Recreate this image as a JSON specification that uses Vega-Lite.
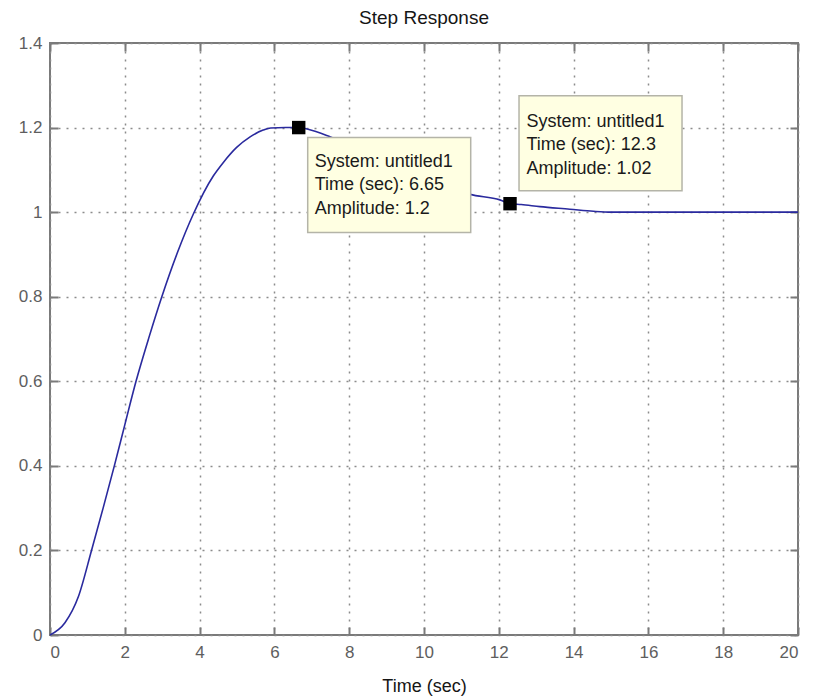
{
  "$schema": "https://vega.github.io/schema/vega-lite/v6.json",
  "width": 748,
  "height": 592,
  "autosize": {"type": "none"},
  "padding": {"left": 50, "top": 43, "right": 16, "bottom": 61},
  "background": "white",
  "title": {
    "text": "Step Response",
    "font": "Liberation Sans",
    "fontSize": 19,
    "fontWeight": "normal",
    "color": "#151515",
    "anchor": "middle",
    "offset": 6
  },
  "config": {
    "view": {"stroke": "#7a7a7a", "strokeWidth": 2},
    "axis": {
      "labelFont": "Liberation Sans",
      "labelFontSize": 17,
      "labelColor": "#5e5e5e",
      "titleFont": "Liberation Sans",
      "titleFontSize": 18,
      "titleFontWeight": "normal",
      "titleColor": "#151515",
      "domain": false,
      "tickColor": "#7a7a7a",
      "tickWidth": 2,
      "tickSize": -8,
      "labelPadding": 16,
      "gridColor": "#8c8c8c",
      "gridWidth": 1.5,
      "gridDash": [2, 6]
    }
  },
  "datasets": {
    "response": [
      {"t": 0, "amplitude": 0},
      {"t": 0.4, "amplitude": 0.029},
      {"t": 0.76, "amplitude": 0.091},
      {"t": 1.11, "amplitude": 0.2},
      {"t": 1.42, "amplitude": 0.3},
      {"t": 1.72, "amplitude": 0.4},
      {"t": 2.0, "amplitude": 0.497},
      {"t": 2.3, "amplitude": 0.6},
      {"t": 2.65, "amplitude": 0.705},
      {"t": 2.99, "amplitude": 0.8},
      {"t": 3.41, "amplitude": 0.905},
      {"t": 3.83, "amplitude": 0.995},
      {"t": 4.37, "amplitude": 1.086},
      {"t": 4.63, "amplitude": 1.117},
      {"t": 4.99, "amplitude": 1.153},
      {"t": 5.35, "amplitude": 1.178},
      {"t": 5.7, "amplitude": 1.194},
      {"t": 5.9, "amplitude": 1.199},
      {"t": 6.3, "amplitude": 1.2},
      {"t": 6.65, "amplitude": 1.2},
      {"t": 6.9, "amplitude": 1.196},
      {"t": 7.5, "amplitude": 1.178},
      {"t": 8.0, "amplitude": 1.16},
      {"t": 8.5, "amplitude": 1.14},
      {"t": 9.0, "amplitude": 1.12},
      {"t": 9.5, "amplitude": 1.1},
      {"t": 10.0, "amplitude": 1.081},
      {"t": 10.5, "amplitude": 1.064},
      {"t": 11.23, "amplitude": 1.042},
      {"t": 12.03, "amplitude": 1.029},
      {"t": 12.3, "amplitude": 1.02},
      {"t": 12.6, "amplitude": 1.018},
      {"t": 13.1, "amplitude": 1.013},
      {"t": 13.9, "amplitude": 1.007},
      {"t": 14.53, "amplitude": 1.002},
      {"t": 15.0, "amplitude": 1.0},
      {"t": 20.0, "amplitude": 1.0}
    ],
    "datatips": [
      {"system": "untitled1", "t": 6.65, "amplitude": 1.2},
      {"system": "untitled1", "t": 12.3, "amplitude": 1.02}
    ]
  },
  "layer": [
    {
      "data": {"name": "response"},
      "mark": {"type": "line", "color": "#2a2a9e", "strokeWidth": 1.6, "interpolate": "monotone"},
      "encoding": {
        "x": {
          "field": "t", "type": "quantitative",
          "scale": {"domain": [0, 20], "nice": false},
          "axis": {
            "orient": "bottom", "title": "Time (sec)",
            "values": [0, 2, 4, 6, 8, 10, 12, 14, 16, 18, 20],
            "grid": true, "labelPadding": 17, "titlePadding": 17
          }
        },
        "y": {
          "field": "amplitude", "type": "quantitative",
          "scale": {"domain": [0, 1.4], "nice": false},
          "axis": {
            "orient": "left", "title": null,
            "values": [0, 0.2, 0.4, 0.6, 0.8, 1, 1.2, 1.4],
            "format": ".1~f", "grid": true
          }
        }
      }
    },
    {
      "data": {"name": "response"},
      "mark": {"type": "line", "opacity": 0},
      "encoding": {
        "x": {
          "field": "t", "type": "quantitative",
          "axis": {
            "orient": "top", "title": null, "labels": false, "grid": false,
            "values": [0, 2, 4, 6, 8, 10, 12, 14, 16, 18, 20]
          }
        },
        "y": {
          "field": "amplitude", "type": "quantitative",
          "axis": {
            "orient": "right", "title": null, "labels": false, "grid": false,
            "values": [0, 0.2, 0.4, 0.6, 0.8, 1, 1.2, 1.4]
          }
        }
      }
    },
    {
      "data": {"name": "datatips"},
      "transform": [{"filter": "datum.t == 6.65"}],
      "mark": {
        "type": "rect", "fill": "#ffffe2", "stroke": "#b4b4a8", "strokeWidth": 1.5,
        "xOffset": 9, "x2Offset": 172, "yOffset": 10, "y2Offset": 105
      },
      "encoding": {
        "x": {"field": "t", "type": "quantitative", "axis": null},
        "x2": {"field": "t"},
        "y": {"field": "amplitude", "type": "quantitative", "axis": null},
        "y2": {"field": "amplitude"}
      }
    },
    {
      "data": {"name": "datatips"},
      "transform": [{"filter": "datum.t == 12.3"}],
      "mark": {
        "type": "rect", "fill": "#ffffe2", "stroke": "#b4b4a8", "strokeWidth": 1.5,
        "xOffset": 9, "x2Offset": 172, "yOffset": -108, "y2Offset": -13
      },
      "encoding": {
        "x": {"field": "t", "type": "quantitative", "axis": null},
        "x2": {"field": "t"},
        "y": {"field": "amplitude", "type": "quantitative", "axis": null},
        "y2": {"field": "amplitude"}
      }
    },
    {
      "data": {"name": "datatips"},
      "transform": [
        {"filter": "datum.t == 6.65"},
        {"calculate": "'System: ' + datum.system + '\\n' + 'Time (sec): ' + datum.t + '\\n' + 'Amplitude: ' + datum.amplitude", "as": "label"}
      ],
      "mark": {
        "type": "text", "align": "left", "baseline": "middle",
        "dx": 16, "dy": 34, "lineBreak": "\n", "lineHeight": 23.5,
        "font": "Liberation Sans", "fontSize": 18, "color": "#1a1a1a"
      },
      "encoding": {
        "x": {"field": "t", "type": "quantitative", "axis": null},
        "y": {"field": "amplitude", "type": "quantitative", "axis": null},
        "text": {"field": "label"}
      }
    },
    {
      "data": {"name": "datatips"},
      "transform": [
        {"filter": "datum.t == 12.3"},
        {"calculate": "'System: ' + datum.system + '\\n' + 'Time (sec): ' + datum.t + '\\n' + 'Amplitude: ' + datum.amplitude", "as": "label"}
      ],
      "mark": {
        "type": "text", "align": "left", "baseline": "middle",
        "dx": 16.5, "dy": -82, "lineBreak": "\n", "lineHeight": 23.5,
        "font": "Liberation Sans", "fontSize": 18, "color": "#1a1a1a"
      },
      "encoding": {
        "x": {"field": "t", "type": "quantitative", "axis": null},
        "y": {"field": "amplitude", "type": "quantitative", "axis": null},
        "text": {"field": "label"}
      }
    },
    {
      "data": {"name": "datatips"},
      "mark": {"type": "point", "shape": "square", "filled": true, "color": "black", "opacity": 1, "size": 180},
      "encoding": {
        "x": {"field": "t", "type": "quantitative", "axis": null},
        "y": {"field": "amplitude", "type": "quantitative", "axis": null}
      }
    }
  ],
  "resolve": {"axis": {"x": "independent", "y": "independent"}}
}
